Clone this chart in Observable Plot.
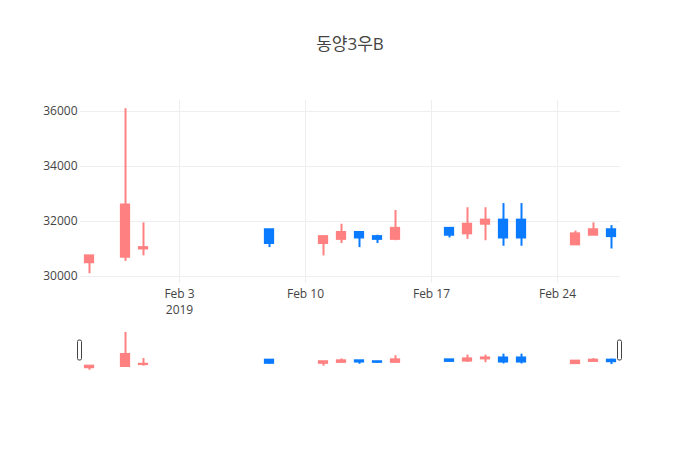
<!DOCTYPE html>
<html>
<head>
<meta charset="utf-8">
<script src="https://cdn.jsdelivr.net/npm/d3@7"></script>
<script src="https://cdn.jsdelivr.net/npm/@observablehq/plot@0.6"></script>
<style>
  html, body { margin: 0; padding: 0; background: #fff; }
  #wrap { position: relative; width: 700px; height: 450px; font-family: "Open Sans", "Noto Sans CJK KR", sans-serif; }
  #title { position: absolute; left: 0; top: 32px; width: 700px; text-align: center; font-size: 17px; color: #444; line-height: 24px; }
  #main { position: absolute; left: 0; top: 0; }
  #slider { position: absolute; left: 0; top: 320px; }
</style>
</head>
<body>
<div id="wrap">
  <div id="main"></div>
  <div id="slider"></div>
  <div id="title">동양3우B</div>
</div>
<script>
const title = "동양3우B";
const dates = ["2019-01-29","2019-01-31","2019-02-01","2019-02-08","2019-02-11","2019-02-12","2019-02-13","2019-02-14","2019-02-15","2019-02-18","2019-02-19","2019-02-20","2019-02-21","2019-02-22","2019-02-25","2019-02-26","2019-02-27"];
const open  = [30500,30700,31000,31700,31200,31350,31600,31450,31350,31750,31550,31900,32050,32050,31150,31500,31700];
const high  = [30750,36100,31950,31700,31450,31900,31600,31500,32400,31750,32500,32500,32650,32650,31650,31950,31850];
const low   = [30100,30550,30750,31050,30750,31200,31050,31200,31300,31400,31350,31300,31100,31100,31150,31500,31000];
const close = [30750,32600,31050,31200,31450,31600,31400,31350,31750,31500,31900,32050,31400,31400,31550,31700,31450];
const xTicks = ["2019-02-03","2019-02-10","2019-02-17","2019-02-24"];
const yTicks = [30000,32000,34000,36000];

const upColor = "#ff8080";
const downColor = "#0a7bff";

const data = dates.map((d, i) => ({
  date: new Date(d + "T00:00:00Z"),
  open: open[i], high: high[i], low: low[i], close: close[i]
}));
const color = d => d.close >= d.open ? upColor : downColor;
const xDomain = [new Date("2019-01-28T12:00:00Z"), new Date("2019-02-27T12:00:00Z")];
const yDomain = [29745, 36400];
const tickDates = xTicks.map(d => new Date(d + "T00:00:00Z"));
const fmt = d3.utcFormat("%b %-d");

const candleMarks = () => [
  Plot.ruleX(data, {x: "date", y1: "low", y2: "high", stroke: color, strokeWidth: 2}),
  Plot.rect(data, {
    x1: d => d3.utcMinute.offset(d.date, -330),
    x2: d => d3.utcMinute.offset(d.date, 330),
    y1: "open", y2: "close", fill: color, stroke: color, strokeWidth: 2
  })
];

const main = Plot.plot({
  width: 700, height: 320,
  marginTop: 100, marginBottom: 37, marginLeft: 80, marginRight: 80,
  style: {fontFamily: "'Open Sans', sans-serif", fontSize: "12px", color: "#444", background: "#fff"},
  x: {type: "utc", domain: xDomain},
  y: {domain: yDomain},
  marks: [
    Plot.gridY(yTicks, {stroke: "#eee", strokeOpacity: 1, strokeWidth: 1}),
    Plot.gridX(tickDates, {stroke: "#eee", strokeOpacity: 1, strokeWidth: 1}),
    Plot.axisY(yTicks, {tickSize: 0, tickPadding: 3, tickFormat: d => String(d), label: null, fill: "#444", fontSize: 12}),
    Plot.axisX(tickDates, {tickSize: 0, tickPadding: 3, label: null, fill: "#444", fontSize: 12, lineHeight: 1.33,
      tickFormat: (d, i) => i === 0 ? fmt(d) + "\n" + d3.utcFormat("%Y")(d) : fmt(d)}),
    ...candleMarks()
  ]
});
document.getElementById("main").appendChild(main);

const slider = Plot.plot({
  width: 700, height: 60,
  marginTop: 10, marginBottom: 8, marginLeft: 80, marginRight: 80,
  style: {background: "transparent"},
  x: {type: "utc", domain: xDomain, axis: null},
  y: {domain: yDomain, axis: null},
  marks: candleMarks()
});
document.getElementById("slider").appendChild(slider);

// range slider grabbers at both ends of the selected range
const xs = slider.scale("x");
const svg = d3.select(slider);
xDomain.forEach(d => {
  const px = xs.apply(d);
  svg.append("rect")
    .attr("x", px - 2.5).attr("y", 20).attr("width", 4).attr("height", 20)
    .attr("rx", 1.5).attr("ry", 1.5)
    .attr("fill", "#fff").attr("stroke", "#444").attr("stroke-width", 1);
});
</script>
</body>
</html>
